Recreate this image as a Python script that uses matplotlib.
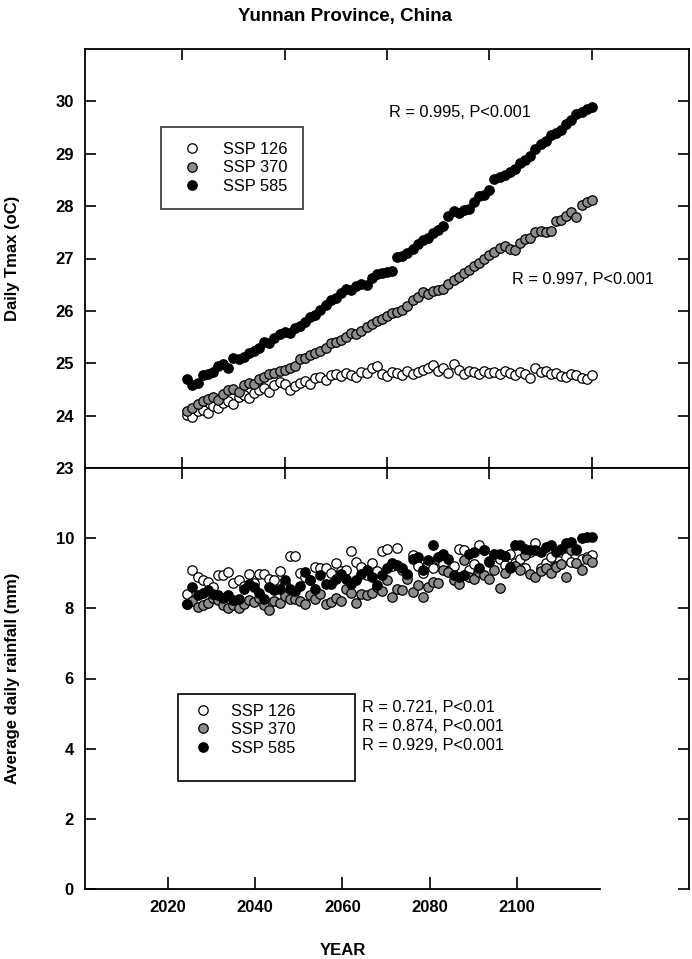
import matplotlib
matplotlib.use("Agg")
import matplotlib.pyplot as plt
from matplotlib.patches import Rectangle
import numpy as np

plt.rcParams['font.family'] = ['Liberation Sans', 'DejaVu Sans']

years = np.arange(2021, 2101)

# daily Tmax (oC)
tmax_126 = [24.02, 23.98, 24.08, 24.10, 24.05, 24.18, 24.14, 24.24, 24.28, 24.22,
            24.36, 24.40, 24.34, 24.44, 24.48, 24.52, 24.46, 24.58, 24.64, 24.60,
            24.48, 24.56, 24.62, 24.66, 24.60, 24.72, 24.74, 24.68, 24.78, 24.80,
            24.76, 24.82, 24.78, 24.74, 24.84, 24.82, 24.90, 24.94, 24.80, 24.76,
            24.84, 24.82, 24.78, 24.86, 24.80, 24.84, 24.88, 24.90, 24.96, 24.86,
            24.90, 24.82, 24.98, 24.88, 24.80, 24.86, 24.84, 24.80, 24.86, 24.82,
            24.84, 24.80, 24.86, 24.82, 24.78, 24.84, 24.80, 24.72, 24.90, 24.84,
            24.86, 24.80, 24.82, 24.76, 24.74, 24.80, 24.78, 24.72, 24.70, 24.78]
tmax_370 = [24.08, 24.15, 24.22, 24.28, 24.32, 24.36, 24.30, 24.42, 24.48, 24.50,
            24.45, 24.58, 24.62, 24.60, 24.70, 24.74, 24.80, 24.82, 24.86, 24.88,
            24.90, 24.94, 25.08, 25.10, 25.15, 25.20, 25.24, 25.30, 25.38, 25.40,
            25.45, 25.50, 25.58, 25.55, 25.62, 25.70, 25.75, 25.80, 25.85, 25.90,
            25.95, 25.98, 26.02, 26.10, 26.20, 26.26, 26.36, 26.32, 26.38, 26.40,
            26.42, 26.52, 26.58, 26.64, 26.72, 26.78, 26.86, 26.92, 27.00, 27.06,
            27.12, 27.20, 27.24, 27.18, 27.16, 27.30, 27.38, 27.40, 27.50, 27.52,
            27.50, 27.52, 27.72, 27.74, 27.82, 27.88, 27.80, 28.02, 28.08, 28.12]
tmax_585 = [24.70, 24.58, 24.62, 24.78, 24.80, 24.84, 24.95, 24.98, 24.90, 25.10,
            25.08, 25.12, 25.20, 25.24, 25.30, 25.40, 25.38, 25.48, 25.55, 25.60,
            25.58, 25.68, 25.72, 25.78, 25.88, 25.92, 26.02, 26.12, 26.20, 26.25,
            26.35, 26.42, 26.40, 26.48, 26.52, 26.50, 26.62, 26.70, 26.72, 26.74,
            26.76, 27.02, 27.05, 27.10, 27.18, 27.28, 27.35, 27.40, 27.48, 27.55,
            27.62, 27.82, 27.90, 27.86, 27.92, 27.94, 28.08, 28.20, 28.22, 28.30,
            28.52, 28.56, 28.60, 28.66, 28.70, 28.82, 28.88, 28.96, 29.10, 29.18,
            29.24, 29.35, 29.40, 29.46, 29.56, 29.64, 29.76, 29.80, 29.86, 29.90]

# average daily rainfall (mm)
rain_126 = [8.42, 9.10, 8.90, 8.80, 8.75, 8.60, 8.94, 8.94, 9.04, 8.71,
            8.80, 8.65, 8.99, 8.72, 8.99, 8.99, 8.85, 8.80, 9.07, 8.70,
            9.49, 9.49, 9.02, 8.90, 8.80, 9.17, 9.14, 9.14, 9.00, 9.28,
            9.05, 9.10, 9.64, 9.33, 9.18, 8.95, 9.30, 9.05, 9.63, 9.68,
            9.20, 9.72, 9.10, 8.95, 9.52, 9.20, 9.00, 9.30, 9.15, 9.42,
            9.25, 9.05, 9.20, 9.70, 9.66, 9.10, 9.25, 9.80, 9.66, 9.35,
            9.50, 9.42, 9.23, 9.55, 9.30, 9.42, 9.14, 9.60, 9.85, 9.14,
            9.30, 9.45, 9.20, 9.61, 9.45, 9.33, 9.70, 9.40, 9.47, 9.52]
rain_370 = [8.13, 8.20, 8.04, 8.09, 8.15, 8.30, 8.25, 8.09, 8.02, 8.10,
            8.00, 8.12, 8.25, 8.18, 8.30, 8.09, 7.95, 8.20, 8.15, 8.35,
            8.27, 8.27, 8.20, 8.11, 8.38, 8.27, 8.40, 8.13, 8.18, 8.30,
            8.22, 8.56, 8.45, 8.15, 8.42, 8.38, 8.44, 8.60, 8.50, 8.82,
            8.33, 8.56, 8.52, 8.85, 8.47, 8.66, 8.33, 8.60, 8.75, 8.73,
            9.08, 9.04, 8.80, 8.70, 9.37, 8.90, 8.85, 9.04, 8.95, 8.85,
            9.08, 8.57, 9.00, 9.14, 9.20, 9.10, 9.52, 8.99, 8.89, 9.05,
            9.14, 9.00, 9.18, 9.25, 8.89, 9.66, 9.30, 9.08, 9.42, 9.33]
rain_585 = [8.11, 8.61, 8.37, 8.45, 8.51, 8.42, 8.37, 8.30, 8.37, 8.23,
            8.27, 8.56, 8.70, 8.61, 8.45, 8.27, 8.61, 8.51, 8.55, 8.80,
            8.56, 8.50, 8.63, 9.04, 8.80, 8.56, 8.94, 8.70, 8.70, 8.85,
            8.99, 8.85, 8.70, 8.80, 8.99, 9.08, 8.90, 8.66, 8.95, 9.14,
            9.28, 9.23, 9.14, 8.99, 9.42, 9.47, 9.08, 9.37, 9.80, 9.45,
            9.56, 9.42, 8.94, 8.90, 8.94, 9.56, 9.61, 9.14, 9.66, 9.33,
            9.56, 9.56, 9.50, 9.18, 9.80, 9.80, 9.70, 9.66, 9.66, 9.60,
            9.75, 9.80, 9.61, 9.70, 9.85, 9.89, 9.66, 10.00, 10.04, 10.02]

labels = ['SSP 126', 'SSP 370', 'SSP 585']
fills = ['white', '#8c8c8c', 'black']
top_r = ['R = 0.995, P<0.001', 'R = 0.997, P<0.001']
bot_r = ['R = 0.721, P<0.01', 'R = 0.874, P<0.001', 'R = 0.929, P<0.001']
year_ticks = [2020, 2040, 2060, 2080, 2100]

W, H = 692, 959
fig = plt.figure(figsize=(W / 100, H / 100), dpi=100)
L, R = 85, 689
ax1 = fig.add_axes([L / W, (H - 468) / H, (R - L) / W, (468 - 49) / H])
ax2 = fig.add_axes([L / W, (H - 889) / H, (R - L) / W, (889 - 468) / H])
# the labelled year axis under the lower panel is shorter than the frames
ax3 = fig.add_axes([L / W, (H - 889) / H, (600 - L) / W, 0.0001])

def style(ax):
    for s in ax.spines.values():
        s.set_linewidth(1.3)
    ax.tick_params(direction='in', length=8, width=1.2, top=True, right=True,
                   labelsize=12, pad=8)
    for t in ax.get_xticklabels() + ax.get_yticklabels():
        t.set_fontweight('bold')
    ax.set_xlim(2001, 2119)
    ax.set_xticks(year_ticks)

for ax, series in ((ax1, (tmax_126, tmax_370, tmax_585)),
                   (ax2, (rain_126, rain_370, rain_585))):
    for vals, fc, lab in zip(series, fills, labels):
        ax.plot(years, vals, 'o', ms=6.8, mfc=fc, mec='black', mew=0.9,
                ls='none', label=lab)

ax1.set_ylim(23, 31)
ax1.set_yticks(range(23, 31))
ax2.set_ylim(0, 12)
ax2.set_yticks(range(0, 12, 2))
style(ax1)
style(ax2)
ax1.tick_params(labelbottom=False)
ax2.tick_params(bottom=False, labelbottom=False)
ax2.spines['bottom'].set_visible(False)

style(ax3)
ax3.patch.set_visible(False)
ax3.set_yticks([])
for s in ('left', 'top', 'right'):
    ax3.spines[s].set_visible(False)
ax3.tick_params(top=False, right=False, length=9)

ax1.set_ylabel('Daily Tmax (oC)', fontsize=12, fontweight='bold')
ax2.set_ylabel('Average daily rainfall (mm)', fontsize=12, fontweight='bold')
ax1.yaxis.set_label_coords(-0.108, 0.5)
ax2.yaxis.set_label_coords(-0.108, 0.5)
ax3.set_xlabel('YEAR', fontsize=12, fontweight='bold', labelpad=20)
fig.suptitle('Yunnan Province, China', x=345 / W, y=1 - 16 / H, va='center',
             fontsize=13.5, fontweight='bold')

leg1 = ax1.legend(loc='upper left', bbox_to_anchor=((161 - L) / (R - L), (468 - 127) / 419),
                  frameon=True, fancybox=False, edgecolor='black', fontsize=11.8,
                  handletextpad=0.9, labelspacing=0.22, borderpad=0.9, borderaxespad=0)
leg1.get_frame().set_linewidth(1.2)

# lower legend: frame drawn separately, wider than its entries
leg2 = ax2.legend(loc='upper left', bbox_to_anchor=((180 - L) / (R - L), (889 - 697) / 421),
                  frameon=False, fontsize=11.8, handletextpad=0.7,
                  labelspacing=0.22, borderpad=0.4, borderaxespad=0)
ax2.add_patch(Rectangle(((178 - L) / (R - L), (889 - 781) / 421),
                        (355 - 178) / (R - L), (781 - 694) / 421,
                        transform=ax2.transAxes, fill=False, ec='black', lw=1.2))

ax1.text(2060.3, 29.78, top_r[0], fontsize=11.8, va='center')
ax1.text(2084.5, 26.6, top_r[1], fontsize=11.8, va='center')
for i, txt in enumerate(bot_r):
    ax2.text(2055.2, 5.16 - i * 0.54, txt, fontsize=11.8, va='center')

fig.savefig('out.png', dpi=100)
